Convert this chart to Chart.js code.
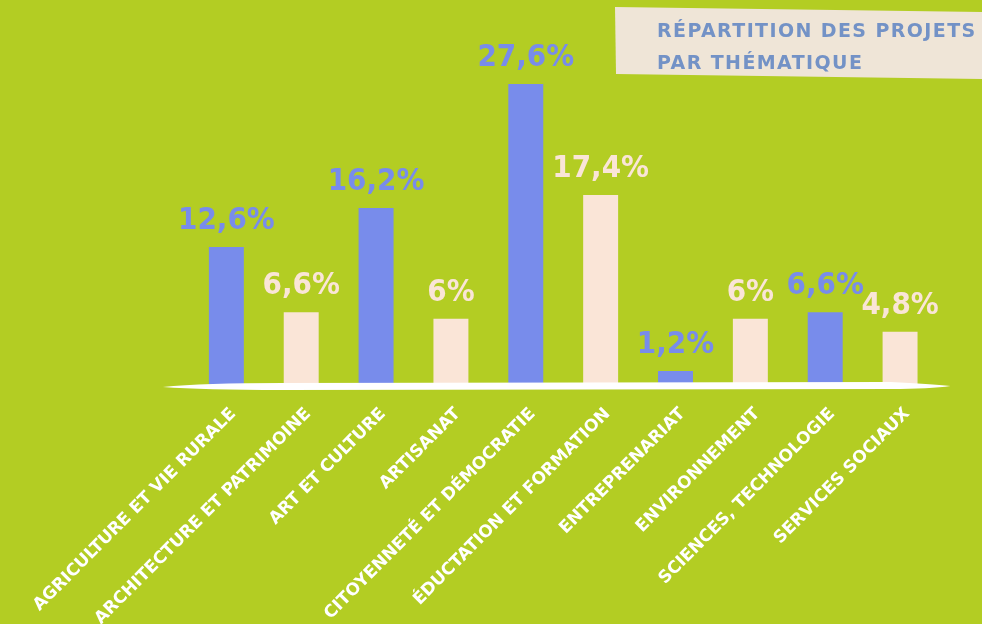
<!DOCTYPE html>
<html><head><meta charset="utf-8">
<script src="https://cdn.jsdelivr.net/npm/chart.js@4/dist/chart.umd.min.js"></script>
<style>
html,body{margin:0;padding:0;background:#b3cd23;}
#wrap{width:982px;height:624px;position:relative;}
</style></head>
<body><div id="wrap"><canvas id="c" width="982" height="624"></canvas></div>
<script>
const categories = ["AGRICULTURE ET VIE RURALE","ARCHITECTURE ET PATRIMOINE","ART ET CULTURE","ARTISANAT","CITOYENNETÉ ET DÉMOCRATIE","ÉDUCTATION ET FORMATION","ENTREPRENARIAT","ENVIRONNEMENT","SCIENCES, TECHNOLOGIE","SERVICES SOCIAUX"];
const shares = [12.6, 6.6, 16.2, 6, 27.6, 17.4, 1.2, 6, 6.6, 4.8];
const titleLines = ["RÉPARTITION DES PROJETS","PAR THÉMATIQUE"];

const BLUE = "#788ceb", PEACH = "#fae5d7", GREEN = "#b3cd23";
const barColors = shares.map((v,i)=> i%2===0 ? BLUE : PEACH);
const FONT = "'DejaVu Sans', sans-serif";
const FONT_C = "'DejaVu Sans Condensed', 'DejaVu Sans', sans-serif";

const decor = {
  id:'decor',
  beforeDraw(chart){
    const ctx = chart.ctx;
    ctx.save();
    ctx.fillStyle = GREEN;
    ctx.fillRect(0,0,chart.width,chart.height);
    // title box
    ctx.fillStyle = "#efe5d7";
    ctx.beginPath();
    ctx.moveTo(615,7); ctx.lineTo(982,12); ctx.lineTo(982,79); ctx.lineTo(616,74);
    ctx.closePath(); ctx.fill();
    ctx.fillStyle = "#7392c6";
    ctx.font = "bold 19px " + FONT;
    ctx.letterSpacing = "1.4px";
    ctx.textBaseline = "alphabetic";
    ctx.textAlign = "left";
    ctx.fillText(titleLines[0], 657, 37);
    ctx.fillText(titleLines[1], 657, 69);
    ctx.restore();
  },
  afterDatasetsDraw(chart){
    const ctx = chart.ctx, a = chart.chartArea;
    const y = chart.scales.y.getPixelForValue(0);
    ctx.save();
    // brush-like baseline
    ctx.fillStyle = "#ffffff";
    ctx.beginPath();
    const L = a.left - 26, R = a.right + 13;
    ctx.moveTo(L, y + 3);
    ctx.quadraticCurveTo(L + 40, y - 1, L + 120, y - 1);
    ctx.lineTo(R - 60, y - 2);
    ctx.quadraticCurveTo(R - 20, y, R, y + 2);
    ctx.quadraticCurveTo(R - 20, y + 5, R - 60, y + 5);
    ctx.lineTo(L + 120, y + 6);
    ctx.quadraticCurveTo(L + 40, y + 6, L, y + 3);
    ctx.closePath(); ctx.fill();
    // value labels
    const meta = chart.getDatasetMeta(0);
    ctx.font = "bold 31px " + FONT_C;
    ctx.textAlign = "center";
    ctx.textBaseline = "alphabetic";
    meta.data.forEach((bar,i)=>{
      ctx.fillStyle = barColors[i];
      const txt = String(shares[i]).replace('.', ',') + '%';
      ctx.fillText(txt, bar.x, bar.y - 18);
    });
    ctx.restore();
  }
};

new Chart(document.getElementById('c'), {
  type:'bar',
  data:{ labels: categories, datasets:[{ data: shares, backgroundColor: barColors, borderWidth:0, barPercentage:0.467, categoryPercentage:1 }]},
  options:{
    responsive:false, animation:false,
    layout:{ padding:{ left:187.5, right:44.5, top:58, bottom:0 } },
    plugins:{ legend:{display:false}, tooltip:{enabled:false}, title:{display:false} },
    scales:{
      y:{ display:false, min:0, max:30 },
      x:{
        grid:{ display:false, drawTicks:false },
        border:{ display:false },
        ticks:{ color:'#ffffff', font:{ family:FONT, size:17, weight:'bold' }, minRotation:45, maxRotation:45, padding:20, autoSkip:false, labelOffset:7 },
        afterFit(s){ s.height = 240; }
      }
    }
  },
  plugins:[decor]
});
</script></body></html>
